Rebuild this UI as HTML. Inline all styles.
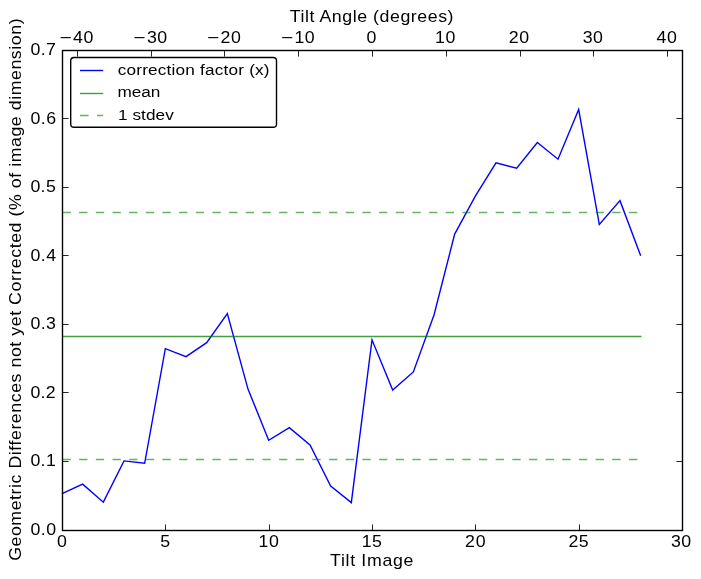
<!DOCTYPE html>
<html><head><meta charset="utf-8"><title>Tilt chart</title>
<style>html,body{margin:0;padding:0;background:#ffffff;}svg{display:block;will-change:transform;}text{font-family:"Liberation Sans",sans-serif;white-space:pre;}</style>
</head><body>
<svg width="701" height="579" viewBox="0 0 701 579">
<rect x="0" y="0" width="701" height="579" fill="#ffffff"/>
<polyline points="62.00,493.73 82.67,484.13 103.33,502.16 124.00,460.88 144.67,463.28 165.33,348.70 186.00,356.65 206.67,342.66 227.33,313.59 248.00,389.09 268.67,440.24 289.33,427.62 310.00,445.04 330.67,486.11 351.33,502.57 372.00,339.85 392.67,390.11 413.33,371.94 434.00,315.03 454.67,234.11 475.33,196.13 496.00,162.87 516.67,168.29 537.33,142.57 558.00,159.17 578.67,109.52 599.33,224.51 620.00,200.65 640.67,255.71" fill="none" stroke="#0000ff" stroke-width="1.39" stroke-linejoin="miter"/>
<line x1="62.50" y1="336.50" x2="641.50" y2="336.50" stroke="#008000" stroke-opacity="0.75" stroke-width="1.39"/>
<line x1="62.50" y1="212.50" x2="641.50" y2="212.50" stroke="#008000" stroke-opacity="0.6" stroke-width="1.39" stroke-dasharray="8.33 8.33"/>
<line x1="62.50" y1="459.50" x2="641.50" y2="459.50" stroke="#008000" stroke-opacity="0.6" stroke-width="1.39" stroke-dasharray="8.33 8.33"/>
<line x1="62.50" y1="530.50" x2="62.50" y2="524.40" stroke="#000000" stroke-width="0.85"/>
<line x1="165.50" y1="530.50" x2="165.50" y2="524.40" stroke="#000000" stroke-width="0.85"/>
<line x1="269.50" y1="530.50" x2="269.50" y2="524.40" stroke="#000000" stroke-width="0.85"/>
<line x1="372.50" y1="530.50" x2="372.50" y2="524.40" stroke="#000000" stroke-width="0.85"/>
<line x1="475.50" y1="530.50" x2="475.50" y2="524.40" stroke="#000000" stroke-width="0.85"/>
<line x1="579.50" y1="530.50" x2="579.50" y2="524.40" stroke="#000000" stroke-width="0.85"/>
<line x1="682.50" y1="530.50" x2="682.50" y2="524.40" stroke="#000000" stroke-width="0.85"/>
<line x1="77.50" y1="50.50" x2="77.50" y2="56.60" stroke="#000000" stroke-width="0.85"/>
<line x1="151.50" y1="50.50" x2="151.50" y2="56.60" stroke="#000000" stroke-width="0.85"/>
<line x1="224.50" y1="50.50" x2="224.50" y2="56.60" stroke="#000000" stroke-width="0.85"/>
<line x1="298.50" y1="50.50" x2="298.50" y2="56.60" stroke="#000000" stroke-width="0.85"/>
<line x1="372.50" y1="50.50" x2="372.50" y2="56.60" stroke="#000000" stroke-width="0.85"/>
<line x1="446.50" y1="50.50" x2="446.50" y2="56.60" stroke="#000000" stroke-width="0.85"/>
<line x1="520.50" y1="50.50" x2="520.50" y2="56.60" stroke="#000000" stroke-width="0.85"/>
<line x1="593.50" y1="50.50" x2="593.50" y2="56.60" stroke="#000000" stroke-width="0.85"/>
<line x1="667.50" y1="50.50" x2="667.50" y2="56.60" stroke="#000000" stroke-width="0.85"/>
<line x1="62.50" y1="530.50" x2="68.60" y2="530.50" stroke="#000000" stroke-width="0.85"/>
<line x1="682.50" y1="530.50" x2="676.40" y2="530.50" stroke="#000000" stroke-width="0.85"/>
<line x1="62.50" y1="461.50" x2="68.60" y2="461.50" stroke="#000000" stroke-width="0.85"/>
<line x1="682.50" y1="461.50" x2="676.40" y2="461.50" stroke="#000000" stroke-width="0.85"/>
<line x1="62.50" y1="392.50" x2="68.60" y2="392.50" stroke="#000000" stroke-width="0.85"/>
<line x1="682.50" y1="392.50" x2="676.40" y2="392.50" stroke="#000000" stroke-width="0.85"/>
<line x1="62.50" y1="324.50" x2="68.60" y2="324.50" stroke="#000000" stroke-width="0.85"/>
<line x1="682.50" y1="324.50" x2="676.40" y2="324.50" stroke="#000000" stroke-width="0.85"/>
<line x1="62.50" y1="255.50" x2="68.60" y2="255.50" stroke="#000000" stroke-width="0.85"/>
<line x1="682.50" y1="255.50" x2="676.40" y2="255.50" stroke="#000000" stroke-width="0.85"/>
<line x1="62.50" y1="187.50" x2="68.60" y2="187.50" stroke="#000000" stroke-width="0.85"/>
<line x1="682.50" y1="187.50" x2="676.40" y2="187.50" stroke="#000000" stroke-width="0.85"/>
<line x1="62.50" y1="118.50" x2="68.60" y2="118.50" stroke="#000000" stroke-width="0.85"/>
<line x1="682.50" y1="118.50" x2="676.40" y2="118.50" stroke="#000000" stroke-width="0.85"/>
<line x1="62.50" y1="50.50" x2="68.60" y2="50.50" stroke="#000000" stroke-width="0.85"/>
<line x1="682.50" y1="50.50" x2="676.40" y2="50.50" stroke="#000000" stroke-width="0.85"/>
<rect x="62.50" y="50.50" width="620.00" height="480.00" fill="none" stroke="#000000" stroke-width="1.39"/>
<g class="t" font-family="'Liberation Sans', sans-serif" fill="#000000">
<text transform="translate(57.04,547.00) scale(1.1100,1)" font-size="16.00">0</text>
<text transform="translate(160.32,547.00) scale(1.1100,1)" font-size="16.00">5</text>
<text transform="translate(258.53,547.00) scale(1.1100,1)" font-size="16.00" textLength="18.30" lengthAdjust="spacing">10</text>
<text transform="translate(361.86,547.00) scale(1.1100,1)" font-size="16.00" textLength="18.03" lengthAdjust="spacing">15</text>
<text transform="translate(465.06,547.00) scale(1.1100,1)" font-size="16.00" textLength="18.43" lengthAdjust="spacing">20</text>
<text transform="translate(568.39,547.00) scale(1.1100,1)" font-size="16.00" textLength="18.16" lengthAdjust="spacing">25</text>
<text transform="translate(670.99,547.00) scale(1.1100,1)" font-size="16.00" textLength="18.19" lengthAdjust="spacing">30</text>
<text transform="translate(59.47,42.90) scale(1.3000,1)" font-size="16.00">&#8722;</text>
<text transform="translate(72.95,42.90) scale(1.1100,1)" font-size="16.00" textLength="18.35" lengthAdjust="spacing">40</text>
<text transform="translate(133.28,42.90) scale(1.3000,1)" font-size="16.00">&#8722;</text>
<text transform="translate(146.94,42.90) scale(1.1100,1)" font-size="16.00" textLength="18.19" lengthAdjust="spacing">30</text>
<text transform="translate(207.09,42.90) scale(1.3000,1)" font-size="16.00">&#8722;</text>
<text transform="translate(220.49,42.90) scale(1.1100,1)" font-size="16.00" textLength="18.43" lengthAdjust="spacing">20</text>
<text transform="translate(280.89,42.90) scale(1.3000,1)" font-size="16.00">&#8722;</text>
<text transform="translate(294.44,42.90) scale(1.1100,1)" font-size="16.00" textLength="18.30" lengthAdjust="spacing">10</text>
<text transform="translate(366.44,42.90) scale(1.1100,1)" font-size="16.00">0</text>
<text transform="translate(435.07,42.90) scale(1.1100,1)" font-size="16.00" textLength="18.30" lengthAdjust="spacing">10</text>
<text transform="translate(508.74,42.90) scale(1.1100,1)" font-size="16.00" textLength="18.43" lengthAdjust="spacing">20</text>
<text transform="translate(582.82,42.90) scale(1.1100,1)" font-size="16.00" textLength="18.19" lengthAdjust="spacing">30</text>
<text transform="translate(656.44,42.90) scale(1.1100,1)" font-size="16.00" textLength="18.35" lengthAdjust="spacing">40</text>
<text transform="translate(30.38,534.90) scale(1.1100,1)" font-size="16.00" textLength="23.14" lengthAdjust="spacing">0.0</text>
<text transform="translate(30.38,465.90) scale(1.1100,1)" font-size="16.00" textLength="22.91" lengthAdjust="spacing">0.1</text>
<text transform="translate(30.38,397.90) scale(1.1100,1)" font-size="16.00" textLength="22.84" lengthAdjust="spacing">0.2</text>
<text transform="translate(30.38,328.90) scale(1.1100,1)" font-size="16.00" textLength="23.03" lengthAdjust="spacing">0.3</text>
<text transform="translate(30.38,260.90) scale(1.1100,1)" font-size="16.00" textLength="23.16" lengthAdjust="spacing">0.4</text>
<text transform="translate(30.38,191.90) scale(1.1100,1)" font-size="16.00" textLength="22.88" lengthAdjust="spacing">0.5</text>
<text transform="translate(30.38,123.90) scale(1.1100,1)" font-size="16.00" textLength="23.28" lengthAdjust="spacing">0.6</text>
<text transform="translate(30.38,54.90) scale(1.1100,1)" font-size="16.00" textLength="23.05" lengthAdjust="spacing">0.7</text>
<text transform="translate(289.77,21.80) scale(1.1100,1)" font-size="16.00" textLength="147.49" lengthAdjust="spacing">Tilt Angle (degrees)</text>
<text transform="translate(330.08,565.70) scale(1.1100,1)" font-size="16.00" textLength="75.06" lengthAdjust="spacing">Tilt Image</text>
<text transform="translate(20.90,289.50) rotate(-90) scale(1.1100,1)" x="-244.47" y="0" font-size="16.00" textLength="488.68" lengthAdjust="spacing">Geometric Differences not yet Corrected (% of image dimension)</text>
</g>
<rect x="70.7" y="57.5" width="205.8" height="69.8" rx="3.3" ry="3.3" fill="#ffffff" stroke="#000000" stroke-width="1.39"/>
<line x1="80" y1="70.5" x2="103.2" y2="70.5" stroke="#0000ff" stroke-width="1.39"/>
<line x1="80" y1="93.5" x2="103.2" y2="93.5" stroke="#008000" stroke-opacity="0.75" stroke-width="1.39"/>
<line x1="80" y1="115.5" x2="103.2" y2="115.5" stroke="#008000" stroke-opacity="0.6" stroke-width="1.39" stroke-dasharray="8.6 8.4"/>
<g class="t" font-family="'Liberation Sans', sans-serif" fill="#000000">
<text transform="translate(117.72,74.70) scale(1.1100,1)" font-size="15.50" textLength="136.81" lengthAdjust="spacing">correction factor (x)</text>
<text transform="translate(117.54,97.40) scale(1.1100,1)" font-size="15.50" textLength="38.65" lengthAdjust="spacing">mean</text>
<text transform="translate(117.96,120.00) scale(1.1100,1)" font-size="15.50" textLength="50.36" lengthAdjust="spacing">1 stdev</text>
</g>
</svg>
</body></html>
